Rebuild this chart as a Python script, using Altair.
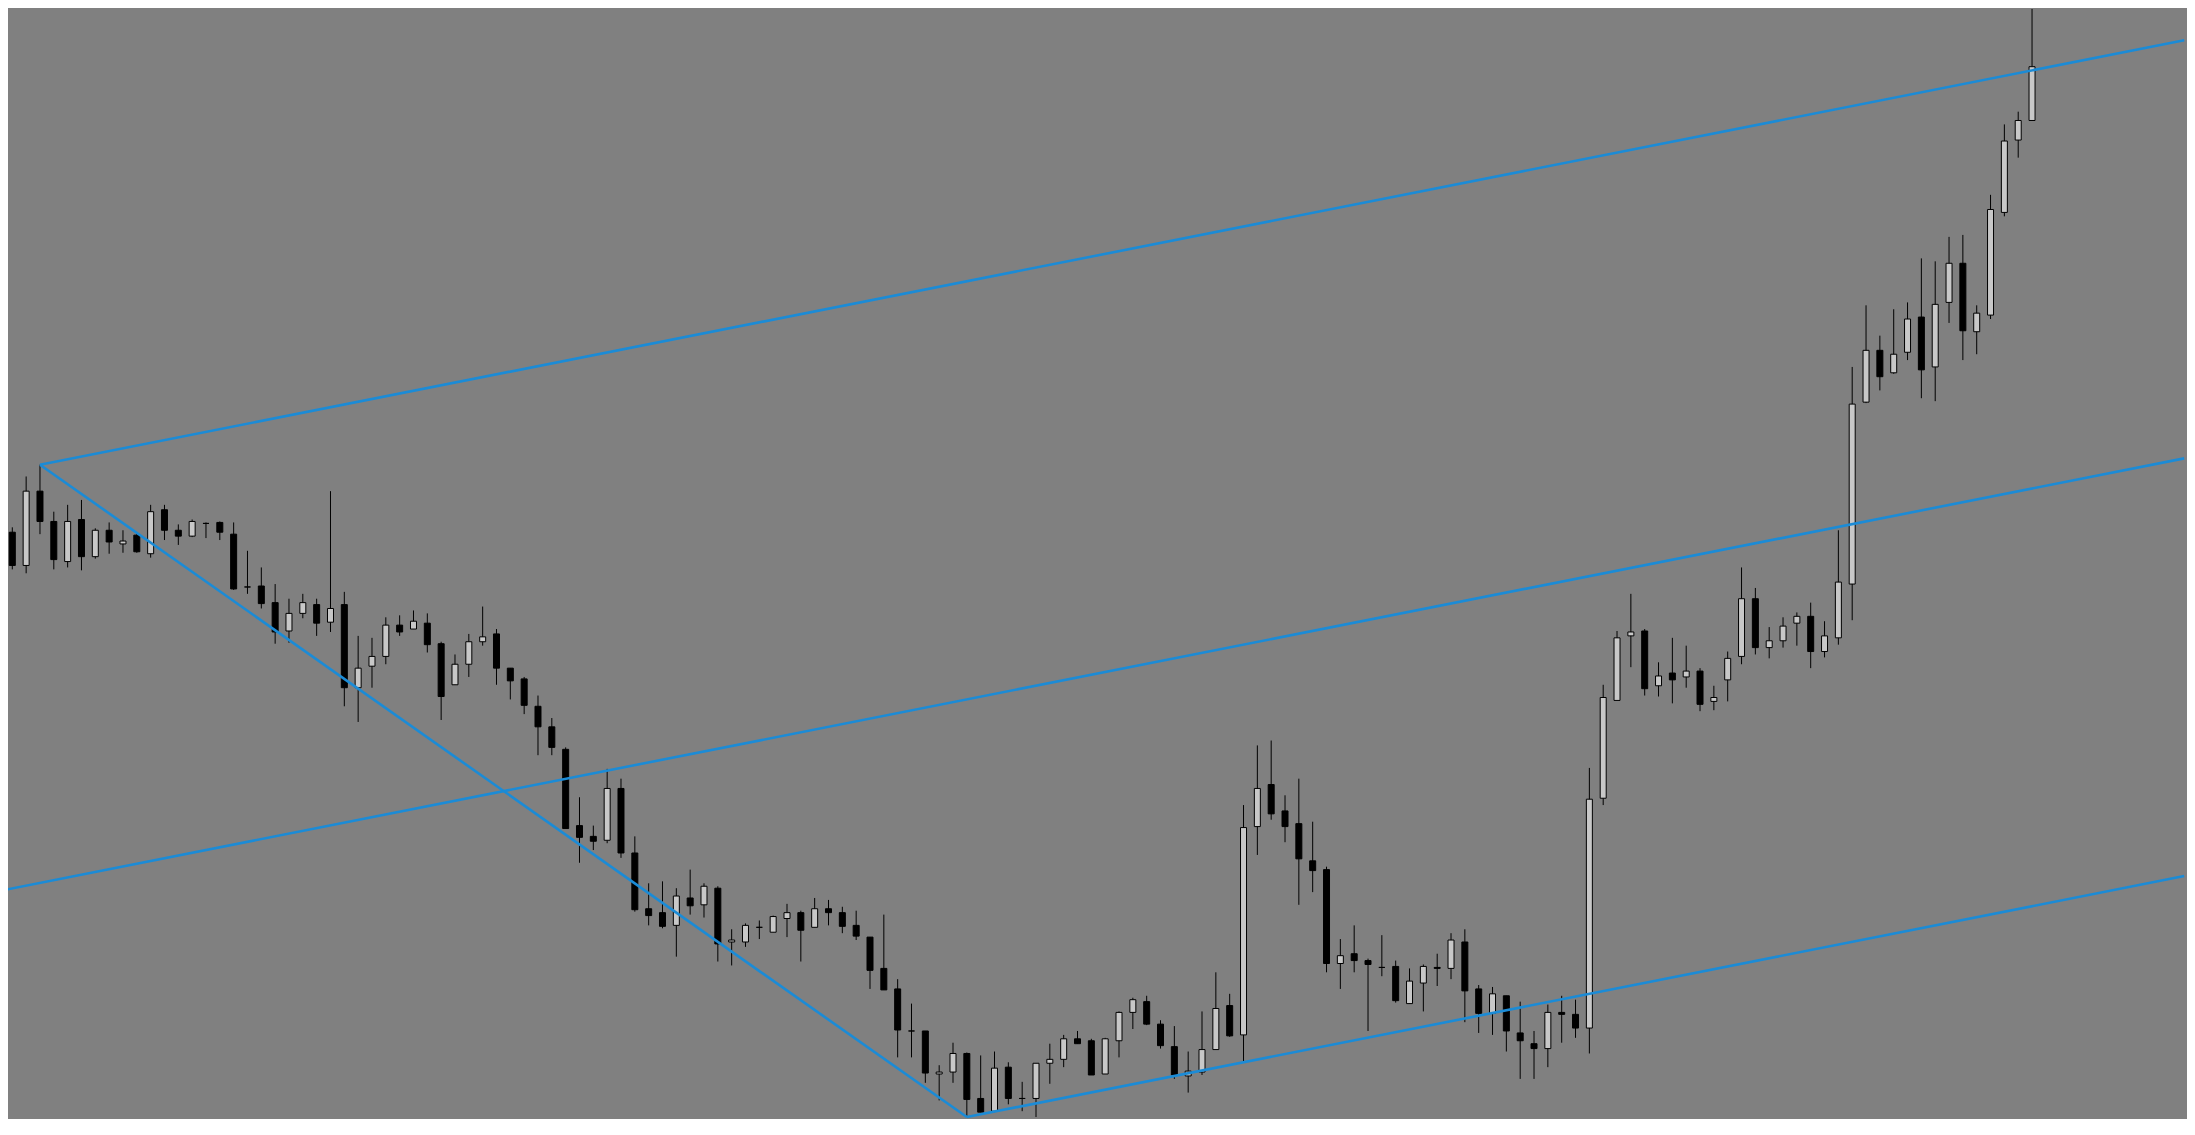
import altair as alt
import pandas as pd

# Candle prices (arbitrary price units)
opens = [600, 566, 642, 611, 570, 613, 575, 602, 588, 597, 578, 623, 602, 596, 609, 610, 598, 544, 545, 528,
         499, 517, 526, 508, 526, 441, 463, 473, 505, 501, 507, 486, 444, 465, 488, 496, 461, 450, 422, 401,
         378, 300, 289, 285, 338, 272, 215, 211, 198, 226, 219, 236, 181, 181, 196, 191, 205, 211, 196, 215,
         211, 198, 186, 154, 133, 90, 90, 46, 48, 67, 21, 8, 53, 21, 21, 57, 61, 82, 80, 46,
         80, 109, 120, 97, 74, 44, 48, 71, 116, 86, 299, 342, 315, 302, 264, 255, 159, 169, 162, 155,
         156, 118, 139, 155, 154, 181, 133, 108, 126, 88, 77, 72, 109, 107, 93, 328, 428, 494, 499, 443,
         456, 452, 458, 427, 449, 473, 532, 482, 489, 507, 514, 478, 492, 547, 733, 786, 763, 784, 820, 769,
         835, 875, 805, 822, 927, 1001, 1021]
highs = [605, 657, 669, 621, 628, 633, 604, 610, 602, 599, 628, 628, 608, 613, 610, 611, 610, 581, 564, 547,
         532, 537, 532, 642, 539, 494, 492, 513, 515, 520, 517, 488, 475, 496, 524, 501, 461, 452, 433, 410,
         380, 329, 300, 358, 348, 289, 241, 243, 236, 255, 241, 238, 194, 200, 203, 208, 220, 213, 226, 224,
         217, 213, 186, 209, 143, 118, 90, 55, 78, 68, 65, 69, 58, 38, 57, 77, 86, 90, 82, 83,
         110, 124, 126, 101, 95, 69, 110, 150, 128, 321, 382, 387, 331, 348, 304, 258, 184, 198, 164, 188,
         162, 154, 158, 169, 190, 194, 137, 135, 126, 120, 90, 117, 126, 122, 359, 444, 499, 537, 501, 467,
         492, 484, 461, 443, 478, 564, 543, 503, 513, 518, 528, 509, 602, 769, 832, 801, 828, 835, 880, 877,
         902, 904, 832, 945, 1017, 1030, 1135]
lows = [562, 558, 598, 562, 564, 561, 573, 578, 579, 579, 574, 592, 587, 595, 594, 592, 541, 537, 522, 486,
        487, 512, 494, 498, 422, 406, 441, 465, 494, 501, 477, 408, 444, 452, 484, 444, 429, 414, 372, 372,
        297, 262, 275, 282, 267, 212, 198, 195, 166, 209, 206, 161, 157, 176, 184, 191, 186, 161, 196, 198,
        190, 183, 133, 132, 63, 63, 37, 19, 37, 2, 7, 7, 15, 8, 2, 36, 53, 77, 45, 46,
        63, 92, 96, 72, 41, 27, 45, 71, 84, 58, 270, 306, 283, 219, 232, 150, 133, 150, 90, 146,
        119, 118, 110, 136, 143, 99, 88, 86, 69, 41, 41, 53, 78, 83, 67, 321, 428, 462, 433, 432,
        425, 441, 417, 418, 427, 465, 475, 471, 482, 484, 461, 472, 485, 510, 732, 745, 762, 776, 737, 734,
        814, 776, 782, 818, 923, 983, 1021]
closes = [566, 642, 611, 572, 611, 575, 602, 590, 591, 580, 621, 602, 596, 611, 609, 600, 542, 544, 527, 498,
          517, 528, 507, 522, 441, 461, 473, 505, 498, 509, 485, 432, 465, 488, 493, 461, 448, 423, 401, 380,
          297, 288, 284, 338, 272, 214, 208, 197, 228, 218, 238, 179, 183, 198, 196, 207, 211, 193, 215, 211,
          197, 187, 152, 132, 91, 90, 47, 48, 67, 20, 7, 52, 21, 21, 57, 61, 82, 77, 45, 82,
          109, 122, 97, 75, 45, 49, 71, 113, 85, 298, 338, 312, 299, 266, 254, 159, 167, 162, 158, 155,
          121, 141, 156, 154, 183, 131, 108, 128, 90, 80, 72, 109, 107, 93, 327, 431, 492, 498, 440, 453,
          449, 458, 424, 431, 471, 532, 482, 489, 504, 514, 478, 494, 549, 731, 786, 759, 782, 818, 766, 833,
          875, 806, 824, 930, 1000, 1021, 1076]

# Drawn channel lines: (start bar, start price) -> (end bar, end price)
line_names = ["upper", "trend", "median", "lower"]
line_bar1 = [2, 2, -1, 69]
line_price1 = [669, 669, 233, 2]
line_bar2 = [157, 69, 157, 157]
line_price2 = [1103, 2, 675.5, 248.4]

df = pd.DataFrame({
    "bar": list(range(len(opens))),
    "open": opens, "high": highs, "low": lows, "close": closes,
})
df["dir"] = ["up" if c >= o else "down" for o, c in zip(opens, closes)]

lines = pd.DataFrame({"name": line_names, "b1": line_bar1, "p1": line_price1,
                      "b2": line_bar2, "p2": line_price2})

xscale = alt.Scale(domain=[0.05, 156.84], nice=False, zero=False)
yscale = alt.Scale(domain=[0, 1135], nice=False, zero=False)

base = alt.Chart(df)
wicks = base.mark_rule(color="black", strokeWidth=1).encode(
    x=alt.X("bar:Q", scale=xscale, axis=None),
    y=alt.Y("low:Q", scale=yscale, axis=None),
    y2="high:Q",
)
bodies = base.mark_bar(size=6, stroke="black", strokeWidth=1).encode(
    x=alt.X("bar:Q", scale=xscale, axis=None),
    y=alt.Y("open:Q", scale=yscale, axis=None),
    y2="close:Q",
    fill=alt.Fill("dir:N", scale=alt.Scale(domain=["up", "down"], range=["#c8c8c8", "#000000"]), legend=None),
)
chan = alt.Chart(lines).mark_rule(color="#1b8bd6", strokeWidth=2.6, clip=True).encode(
    x=alt.X("b1:Q", scale=xscale, axis=None),
    x2="b2:Q",
    y=alt.Y("p1:Q", scale=yscale, axis=None),
    y2="p2:Q",
)

chart = alt.layer(wicks, bodies, chan).properties(
    width=2179, height=1110, background="#808080", padding=0
).configure_view(stroke=None, fill="#808080")

chart.save("out.html", embed_options={"renderer": "svg", "actions": False})
